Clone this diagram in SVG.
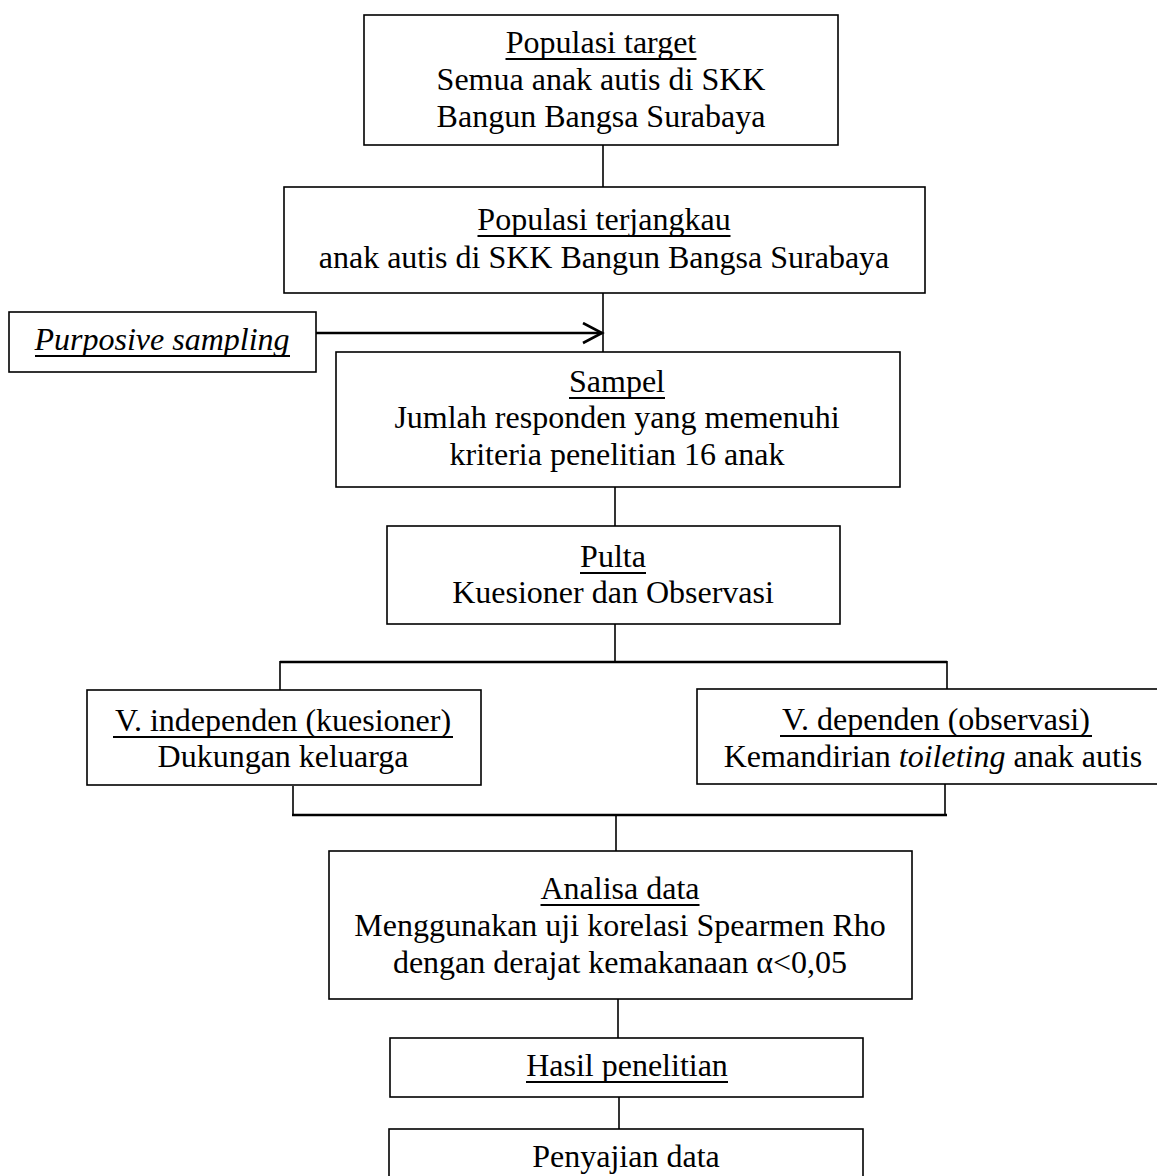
<svg xmlns="http://www.w3.org/2000/svg" width="1157" height="1176" viewBox="0 0 1157 1176">
<style>
  .box { fill: #ffffff; stroke: #000000; stroke-width: 1.6; }
  .ln { fill: none; stroke: #000000; stroke-width: 1.6; }
  .thick { fill: none; stroke: #000000; stroke-width: 2.4; }
  .ul { fill: none; stroke: #000000; stroke-width: 2; }
  text { font-family: "Liberation Serif", "Times New Roman", serif; font-size: 32px; fill: #000000; text-anchor: middle; }
  .it { font-style: italic; }
</style>
<defs>
  <marker id="chev" markerWidth="24" markerHeight="24" refX="20" refY="11" orient="auto" markerUnits="userSpaceOnUse">
    <path d="M1,1 L20,11 L1,21" fill="none" stroke="#000" stroke-width="2.6"/>
  </marker>
</defs>
<rect x="0" y="0" width="1157" height="1176" fill="#ffffff"/>

<g id="connectors">
  <line class="ln" x1="603" y1="145" x2="603" y2="187"/>
  <line class="ln" x1="603" y1="293" x2="603" y2="352"/>
  <line class="thick" x1="316" y1="333" x2="602" y2="333" marker-end="url(#chev)"/>
  <line class="ln" x1="615" y1="487" x2="615" y2="526"/>
  <line class="ln" x1="615" y1="624" x2="615" y2="662"/>
  <line class="thick" x1="280" y1="662" x2="947" y2="662"/>
  <line class="ln" x1="280" y1="661" x2="280" y2="690"/>
  <line class="ln" x1="947" y1="661" x2="947" y2="693"/>
  <line class="ln" x1="293" y1="786" x2="293" y2="815"/>
  <line class="ln" x1="945" y1="784" x2="945" y2="815"/>
  <line class="thick" x1="292" y1="815" x2="947" y2="815"/>
  <line class="ln" x1="616" y1="815" x2="616" y2="851"/>
  <line class="ln" x1="618" y1="999" x2="618" y2="1038"/>
  <line class="ln" x1="619" y1="1097" x2="619" y2="1129"/>
</g>

<g id="populasi-target">
  <rect class="box" x="364" y="15" width="474" height="130"/>
  <text x="601" y="53">Populasi target</text>
  <line class="ul" x1="505.5" y1="59" x2="696.5" y2="59"/>
  <text x="601" y="90">Semua anak autis di SKK</text>
  <text x="601" y="127">Bangun Bangsa Surabaya</text>
</g>

<g id="populasi-terjangkau">
  <rect class="box" x="284" y="187" width="641" height="106"/>
  <text x="604" y="230">Populasi terjangkau</text>
  <line class="ul" x1="477.5" y1="236" x2="730.5" y2="236"/>
  <text x="604" y="268">anak autis di SKK Bangun Bangsa Surabaya</text>
</g>

<g id="purposive-sampling">
  <rect class="box" x="9" y="312" width="307" height="60"/>
  <text class="it" x="162" y="350">Purposive sampling</text>
  <line class="ul" x1="35" y1="356" x2="290" y2="356"/>
</g>

<g id="sampel">
  <rect class="box" x="336" y="352" width="564" height="135"/>
  <text x="617" y="392">Sampel</text>
  <line class="ul" x1="569" y1="398" x2="665" y2="398"/>
  <text x="617" y="428">Jumlah responden yang memenuhi</text>
  <text x="617" y="465">kriteria penelitian 16 anak</text>
</g>

<g id="pulta">
  <rect class="box" x="387" y="526" width="453" height="98"/>
  <text x="613" y="567">Pulta</text>
  <line class="ul" x1="580" y1="573" x2="646" y2="573"/>
  <text x="613" y="603">Kuesioner dan Observasi</text>
</g>

<g id="v-independen">
  <rect class="box" x="87" y="690" width="394" height="95"/>
  <text x="283" y="731">V. independen (kuesioner)</text>
  <line class="ul" x1="113" y1="737" x2="453" y2="737"/>
  <text x="283" y="767">Dukungan keluarga</text>
</g>

<g id="v-dependen">
  <rect class="box" x="697" y="689" width="462" height="95"/>
  <text x="936" y="730">V. dependen (observasi)</text>
  <line class="ul" x1="780" y1="736" x2="1092" y2="736"/>
  <text x="933" y="767">Kemandirian <tspan class="it">toileting</tspan> anak autis</text>
</g>

<g id="analisa-data">
  <rect class="box" x="329" y="851" width="583" height="148"/>
  <text x="620" y="899">Analisa data</text>
  <line class="ul" x1="540.5" y1="905" x2="699.5" y2="905"/>
  <text x="620" y="936">Menggunakan uji korelasi Spearmen Rho</text>
  <text x="620" y="973">dengan derajat kemakanaan α&lt;0,05</text>
</g>

<g id="hasil-penelitian">
  <rect class="box" x="390" y="1038" width="473" height="59"/>
  <text x="627" y="1076">Hasil penelitian</text>
  <line class="ul" x1="526" y1="1082" x2="728" y2="1082"/>
</g>

<g id="penyajian-data">
  <rect class="box" x="389" y="1129" width="474" height="80"/>
  <text x="626" y="1167">Penyajian data</text>
</g>
</svg>
